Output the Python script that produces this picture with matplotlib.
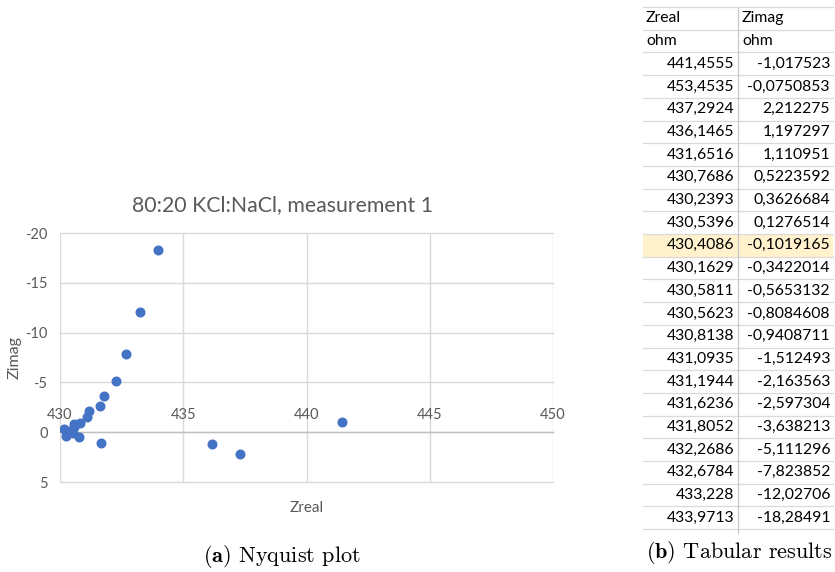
import matplotlib
matplotlib.use("Agg")
import matplotlib.pyplot as plt
from matplotlib.patches import Rectangle

# Impedance measurement, 80:20 KCl:NaCl (run 1)
zreal = [441.4555, 453.4535, 437.2924, 436.1465, 431.6516, 430.7686, 430.2393,
         430.5396, 430.4086, 430.1629, 430.5811, 430.5623, 430.8138, 431.0935,
         431.1944, 431.6236, 431.8052, 432.2686, 432.6784, 433.228, 433.9713]
zimag = [-1.017523, -0.0750853, 2.212275, 1.197297, 1.110951, 0.5223592, 0.3626684,
         0.1276514, -0.1019165, -0.3422014, -0.5653132, -0.8084608, -0.9408711,
         -1.512493, -2.163563, -2.597304, -3.638213, -5.111296, -7.823852,
         -12.02706, -18.28491]
header = ["Zreal", "Zimag"]
units = ["ohm", "ohm"]
highlight_row = 8

x_ticks = [430, 435, 440, 445, 450]
y_ticks = [-20, -15, -10, -5, 0, 5]

W, H = 835, 572
plt.rcParams["mathtext.fontset"] = "cm"
plt.rcParams["axes.unicode_minus"] = False
fig = plt.figure(figsize=(W / 100, H / 100), dpi=100)

# overlay in pixel coordinates for table and captions
over = fig.add_axes([0, 0, 1, 1])
over.set_xlim(0, W)
over.set_ylim(H, 0)
over.axis("off")

# ---- scatter chart ----
left, right, top, bottom = 60, 553, 233, 482
ax = fig.add_axes([left / W, 1 - bottom / H, (right - left) / W, (bottom - top) / H])
ax.plot(zreal, zimag, "o", color="#4472C4", markersize=6.2, zorder=3)
ax.set_xlim(430, 450)
ax.set_ylim(5, -20)
ax.set_xticks(x_ticks)
ax.set_yticks(y_ticks)
ax.grid(True, color="#d9d9d9", linewidth=1.0)
ax.set_axisbelow(True)
for gl in ax.get_xgridlines() + ax.get_ygridlines():
    gl.set_clip_on(False)
for s in ["left", "right"]:
    ax.spines[s].set_visible(False)
ax.spines["bottom"].set_position(("data", 0))
ax.spines["bottom"].set_color("#bfbfbf")
ax.spines["bottom"].set_linewidth(1.0)
ax.spines["top"].set_position(("data", 0))
ax.spines["top"].set_visible(False)
ax.tick_params(axis="x", length=0, labelbottom=False, labeltop=True, pad=7,
               labelcolor="#595959", labelsize=10.5)
ax.tick_params(axis="y", length=0, pad=9, labelcolor="#595959", labelsize=10.5)
for lab in ax.get_xticklabels() + ax.get_yticklabels():
    lab.set_family("Lato")

ax.set_xlabel("Zreal", family="Lato", fontsize=11, color="#595959")
ax.xaxis.set_label_coords(0.5, -0.075)
ax.set_ylabel("Zimag", family="Lato", fontsize=11.5, color="#595959")
ax.yaxis.set_label_coords(-0.077, 0.5)

over.text(282, 205, "80:20 KCl:NaCl, measurement 1", family="Lato", fontsize=15.3,
          color="#595959", ha="center", va="center")

# ---- table ----
t_left, t_mid, t_right = 643, 738, 833
t_top, row_h = 7, 22.7
n_rows = 2 + len(zreal)

hl_y = t_top + (2 + highlight_row) * row_h
over.add_patch(Rectangle((t_left, hl_y), t_right - t_left, row_h,
                         facecolor="#FFF2CC", edgecolor="none", zorder=0))
for i in range(n_rows + 1):
    y = t_top + i * row_h
    over.plot([t_left, t_right], [y, y], color="#dadada", lw=0.9, zorder=1)
over.plot([t_mid, t_mid], [t_top, t_top + n_rows * row_h + 4], color="#c8c8c8",
          lw=0.9, zorder=1)

def cell_y(i):
    return t_top + (i + 0.5) * row_h

tfont = dict(family="Lato", fontsize=11.3, color="black", va="center", zorder=2)
for j, (h, u) in enumerate(zip(header, units)):
    x0 = [t_left + 3, t_mid + 4][j]
    over.text(x0, cell_y(0), h, ha="left", **tfont)
    over.text(x0, cell_y(1), u, ha="left", **tfont)
for i, (zr, zi) in enumerate(zip(zreal, zimag)):
    over.text(t_mid - 4, cell_y(i + 2), str(zr).replace(".", ","), ha="right", **tfont)
    over.text(t_right - 3, cell_y(i + 2), str(zi).replace(".", ","), ha="right", **tfont)

# ---- captions ----
over.text(282, 556, r"$\mathbf{(a)}$ Nyquist plot", family="cmr10", fontsize=16,
          ha="center", va="center")
over.text(739, 553, r"$\mathbf{(b)}$ Tabular results", family="cmr10", fontsize=16,
          ha="center", va="center")

fig.savefig("out.png", dpi=100)
